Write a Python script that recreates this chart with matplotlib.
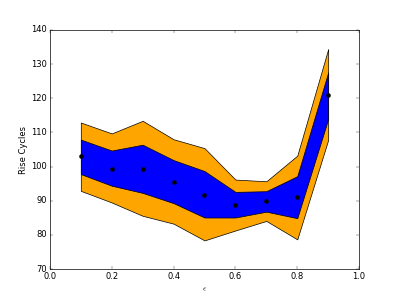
import matplotlib
matplotlib.use("Agg")
import matplotlib.pyplot as plt

eps = [0.1, 0.2, 0.3, 0.4, 0.5, 0.6, 0.7, 0.8, 0.9]
mean = [103.0, 99.4, 99.4, 95.5, 91.8, 88.8, 89.9, 91.0, 121.0]
inner_hi = [107.9, 104.7, 106.4, 101.9, 98.7, 92.6, 92.8, 97.2, 127.6]
inner_lo = [97.8, 94.4, 92.3, 89.3, 85.1, 85.1, 86.8, 84.9, 113.9]
outer_hi = [112.9, 109.7, 113.4, 108.0, 105.4, 96.2, 95.7, 103.2, 134.4]
outer_lo = [92.9, 89.5, 85.6, 83.3, 78.4, 81.3, 84.1, 78.7, 107.8]

plt.style.use("classic")
fig, ax = plt.subplots(figsize=(7.98, 5.98), dpi=50)
ax.fill_between(eps, outer_lo, outer_hi, facecolor="orange", edgecolor="black")
ax.fill_between(eps, inner_lo, inner_hi, facecolor="blue", edgecolor="black")
ax.plot(eps, mean, "o", color="black", markersize=6)
ax.set_xlim(0, 1)
ax.set_ylim(70, 140)
ax.set_xlabel(r"$\epsilon$")
ax.set_ylabel("Rise Cycles")
fig.savefig("out.png", dpi=50, facecolor="white")
